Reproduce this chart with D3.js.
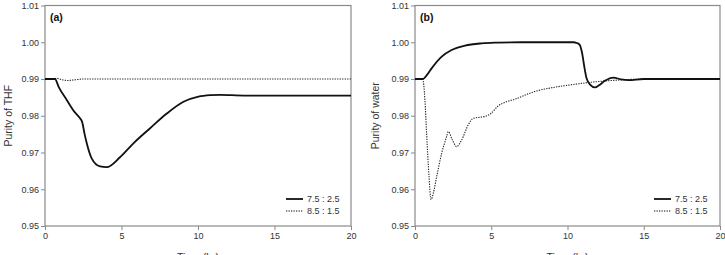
<!DOCTYPE html>
<html><head><meta charset="utf-8">
<script src="https://cdn.jsdelivr.net/npm/d3@7"></script>
<style>body{margin:0;background:#fff}svg{display:block;font-family:"Liberation Sans",Arial,sans-serif}</style>
</head><body><svg id="c" width="725" height="255"></svg>
<script>
const xTicks = [0, 5, 10, 15, 20];
const yTicks = [0.95, 0.96, 0.97, 0.98, 0.99, 1.00, 1.01];
const seriesNames = ["7.5 : 2.5", "8.5 : 1.5"];
const panelLabels = ["(a)", "(b)"];
const yTitles = ["Purity of THF", "Purity of water"];
const xTitle = "Time (hr)";

// Panel (a) THF
const thfSolidT = [0, 0.65, 0.9, 1.42, 1.9, 2.29, 2.42, 2.6, 2.73, 3.05, 3.6, 4.03, 4.9, 5.78, 6.87, 7.96, 9.05, 10.03, 10.8, 11.45, 13, 16, 20];
const thfSolidV = [0.99, 0.99, 0.9878, 0.9843, 0.9812, 0.9793, 0.9784, 0.9748, 0.9725, 0.9684, 0.9662, 0.966, 0.9687, 0.9725, 0.9766, 0.9806, 0.9838, 0.9852, 0.9856, 0.9857, 0.9855, 0.9855, 0.9855];
const thfDotT = [0, 0.5, 0.75, 1.1, 1.5, 2.0, 2.5, 4, 10, 20];
const thfDotV = [0.99, 0.99, 0.9902, 0.9898, 0.9896, 0.9898, 0.99, 0.99, 0.99, 0.99];

// Panel (b) water
const watSolidT = [0, 0.5, 0.8, 1.09, 1.75, 2.4, 3.28, 4.37, 5.46, 7, 10.4, 10.6, 10.8, 10.96, 11.1, 11.25, 11.5, 11.8, 12.1, 12.45, 13.0, 13.5, 14.0, 15, 20];
const watSolidV = [0.99, 0.99, 0.9912, 0.9929, 0.9961, 0.9979, 0.9991, 0.9997, 0.9999, 1.0, 1.0, 0.9998, 0.9993, 0.997, 0.9934, 0.9902, 0.9884, 0.9877, 0.9884, 0.9895, 0.9904, 0.9899, 0.9897, 0.99, 0.99];
const watDotT = [0, 0.5, 0.65, 0.76, 0.92, 1.05, 1.2, 1.42, 1.75, 2.07, 2.18, 2.45, 2.73, 3.06, 3.49, 3.82, 4.26, 4.6, 5.0, 5.46, 6.0, 6.55, 7.2, 7.86, 8.95, 9.83, 10.9, 12, 13.3, 14.2, 16, 20];
const watDotV = [0.99, 0.99, 0.9843, 0.9752, 0.9634, 0.9572, 0.9589, 0.9634, 0.9698, 0.9743, 0.9757, 0.9734, 0.9716, 0.9734, 0.9775, 0.9793, 0.9796, 0.9798, 0.9807, 0.9827, 0.9838, 0.9845, 0.9856, 0.9866, 0.9876, 0.9882, 0.9888, 0.9893, 0.9897, 0.9899, 0.99, 0.99];

const panels = [
  {left: 45, right: 351, solid: [thfSolidT, thfSolidV], dot: [thfDotT, thfDotV], ytx: 8, leg: 286},
  {left: 415, right: 720, solid: [watSolidT, watSolidV], dot: [watDotT, watDotV], ytx: 375, leg: 654}
];
const plotTop = 5.5, plotBottom = 226;
const svg = d3.select("#c");
const axisCol = "#8a8a8a", textCol = "#333";

panels.forEach((p, i) => {
  const x = d3.scaleLinear().domain([0, 20]).range([p.left, p.right]);
  const y = d3.scaleLinear().domain([0.95, 1.01]).range([plotBottom, plotTop]);
  const g = svg.append("g");

  const xa = g.append("g").attr("transform", `translate(0,${plotBottom})`)
    .call(d3.axisBottom(x).tickValues(xTicks).tickFormat(d3.format("d")).tickSize(4).tickPadding(3));
  const ya = g.append("g").attr("transform", `translate(${p.left},0)`)
    .call(d3.axisLeft(y).tickValues(yTicks).tickFormat(d3.format(".2f")).tickSize(4).tickPadding(2));
  [xa, ya].forEach(a => {
    a.select(".domain").remove();
    a.selectAll("line").attr("stroke", axisCol);
    a.selectAll("text").attr("fill", textCol).style("font-size", "9px");
  });
  g.append("rect").attr("x", p.left).attr("y", plotTop).attr("width", p.right - p.left).attr("height", plotBottom - plotTop)
    .attr("fill", "none").attr("stroke", axisCol).attr("stroke-width", 1.2);

  const line = d3.line().x(d => x(d[0])).y(d => y(d[1])).curve(d3.curveMonotoneX);
  const solid = d3.zip(p.solid[0], p.solid[1]);
  const dot = d3.zip(p.dot[0], p.dot[1]);
  g.append("path").datum(dot).attr("d", line).attr("fill", "none").attr("stroke", "#222")
    .attr("stroke-width", 1.1).attr("stroke-dasharray", "1.3,1.2");
  g.append("path").datum(solid).attr("d", line).attr("fill", "none").attr("stroke", "#111")
    .attr("stroke-width", 1.8);

  g.append("text").attr("x", p.left + 5).attr("y", 21).text(panelLabels[i])
    .style("font-size", "10.5px").style("font-weight", "bold").attr("fill", "#111");

  g.append("text").attr("transform", `translate(${p.ytx + 4},${(plotTop + plotBottom) / 2}) rotate(-90)`)
    .attr("text-anchor", "middle").text(yTitles[i]).style("font-size", "10.5px").attr("fill", textCol);
  g.append("text").attr("x", (p.left + p.right) / 2).attr("y", 261).attr("text-anchor", "middle")
    .text(xTitle).style("font-size", "10.5px").attr("fill", textCol);

  seriesNames.forEach((s, k) => {
    const ly = 199 + k * 12;
    g.append("line").attr("x1", p.leg).attr("x2", p.leg + 17).attr("y1", ly).attr("y2", ly)
      .attr("stroke", "#111").attr("stroke-width", k === 0 ? 1.8 : 1.1)
      .attr("stroke-dasharray", k === 0 ? null : "1.3,1.2");
    g.append("text").attr("x", p.leg + 21).attr("y", ly + 3.2).text(s)
      .style("font-size", "9px").attr("fill", textCol);
  });
});
</script></body></html>
